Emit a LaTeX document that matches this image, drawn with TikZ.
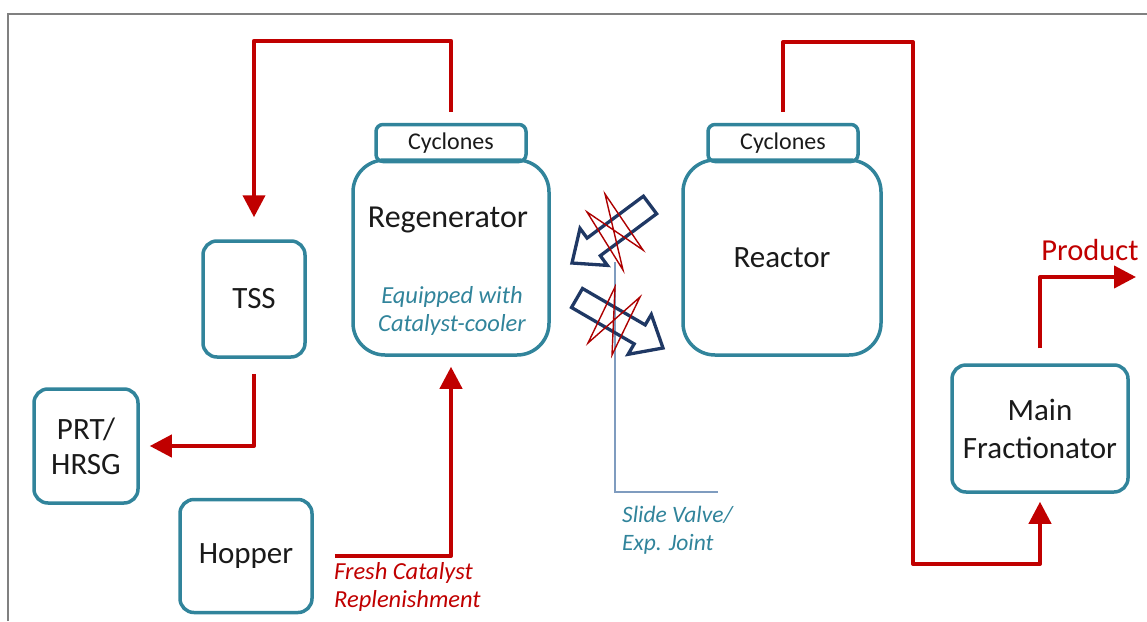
\documentclass[tikz,border=0pt]{standalone}
\usepackage{fontspec}
\setmainfont{Carlito}
\usetikzlibrary{arrows.meta}
\definecolor{teal1}{HTML}{31849B}
\definecolor{red1}{HTML}{C00000}
\definecolor{navy1}{HTML}{1F3864}
\definecolor{lead1}{HTML}{7F9CBF}
\definecolor{frame1}{HTML}{808080}
\definecolor{ink}{HTML}{1A1A1A}
\tikzset{
  box/.style={draw=teal1, line width=3.5pt, rounded corners=14pt, inner sep=0pt,
    font=\fontsize{31}{35}\selectfont, text=ink, align=center},
  bigbox/.style={box, rounded corners=32pt},
  cycbox/.style={box, rounded corners=7pt, font=\fontsize{24}{28}\selectfont},
  label30/.style={inner sep=0pt, font=\fontsize{32}{36}\selectfont, text=ink},
  note/.style={inner sep=0pt, font=\fontsize{24.5}{28}\selectfont\itshape, text=teal1, align=center},
  fresh/.style={inner sep=0pt, font=\fontsize{24.5}{28}\selectfont\itshape, text=red1, align=left},
  svnote/.style={inner sep=0pt, font=\fontsize{23.5}{28}\selectfont\itshape, text=teal1, align=left},
  prodtext/.style={inner sep=0pt, font=\fontsize{30.5}{35}\selectfont, text=red1},
  flow/.style={draw=red1, line width=4pt, line join=round, -{Triangle[length=22pt,width=22pt]}},
  harrow/.style={draw=navy1, line width=3.3pt, line join=miter},
  zig/.style={draw=red1!90!black, line width=1.4pt, line join=miter},
  leader/.style={draw=lead1, line width=1.2pt},
  framestyle/.style={draw=frame1, line width=2.5pt}
}
\begin{document}
\begin{tikzpicture}[x=1pt,y=-1pt]
\useasboundingbox (0,0) rectangle (1147,621);
\draw[framestyle] (8,621) -- (8,14) -- (1147,14);

% boxes
\node[box, minimum width=102pt, minimum height=116pt] (tss) at (254,299) {TSS};
\node[box, minimum width=104pt, minimum height=114pt] (prt) at (86,446) {PRT/\\HRSG};
\node[box, minimum width=132pt, minimum height=113pt] (hopper) at (246,556) {Hopper};
\node[bigbox, minimum width=196pt, minimum height=195pt] (regen) at (451,257.5) {};
\node[cycbox, minimum width=150pt, minimum height=37pt] (regcyc) at (451,143) {Cyclones};
\node[label30] (regtxt) at (448,220) {Regenerator};
\node[note] (regnote) at (452,311) {Equipped with\\Catalyst-cooler};
\node[bigbox, minimum width=198pt, minimum height=195pt] (reactor) at (782,257.5) {Reactor};
\node[cycbox, minimum width=150pt, minimum height=37pt] (reacyc) at (783,143) {Cyclones};
\node[box, minimum width=176pt, minimum height=127pt, font=\fontsize{31}{38}\selectfont] (frac) at (1040,428.5) {Main\\Fractionator};

% helper coordinates
\coordinate (j1) at (913,42);
\coordinate (j2) at (913,564);
\coordinate (prodtip) at (1136,277);
\coordinate (svtop) at (615,262);
\coordinate (svend) at (718,492);

% leader for slide valve
\draw[leader] (svtop) |- (svend);

% flows
\draw[flow] ([yshift=11pt]regcyc.north) -- ++(0,-71) -| ([yshift=22pt]tss.north);
\draw[flow] ([yshift=-15pt]tss.south) |- ([xshift=10pt]prt.east);
\draw[flow] ([xshift=21pt]hopper.east) -| ([yshift=-10pt]regen.south);
\draw[flow] ([yshift=11pt]reacyc.north) |- (j1) -- (j2) -| ([yshift=-8pt]frac.south);
\draw[flow] ([yshift=15pt]frac.north) |- (prodtip);

% texts
\node[prodtext] (product) at (1090,250) {Product};
\node[fresh, anchor=north west] (fresh) at (334,562) {Fresh Catalyst\\Replenishment};
\node[svnote, anchor=north west] (svtext) at (622,506) {Slide Valve/\\Exp. Joint};

% hollow arrows (catalyst transfer)
\draw[harrow] (656.6,213.8) -- (643.4,196.2) -- (587.1,238.1) -- (580.0,228.4)
  -- (572,263) -- (607.4,265.4) -- (600.3,255.7) -- cycle;
\draw[harrow] (571.5,307.5) -- (582.5,288.5) -- (645.2,324.9) -- (651.3,314.5)
  -- (663,348) -- (628.1,354.3) -- (634.2,343.9) -- cycle;

% expansion joint zigzags
\draw[zig] (605,194) -- (643,250) -- (587,212) -- (623,270) -- cycle;
\draw[zig] (615,287) -- (588,343) -- (640,297) -- (612,355) -- cycle;
\end{tikzpicture}
\end{document}
